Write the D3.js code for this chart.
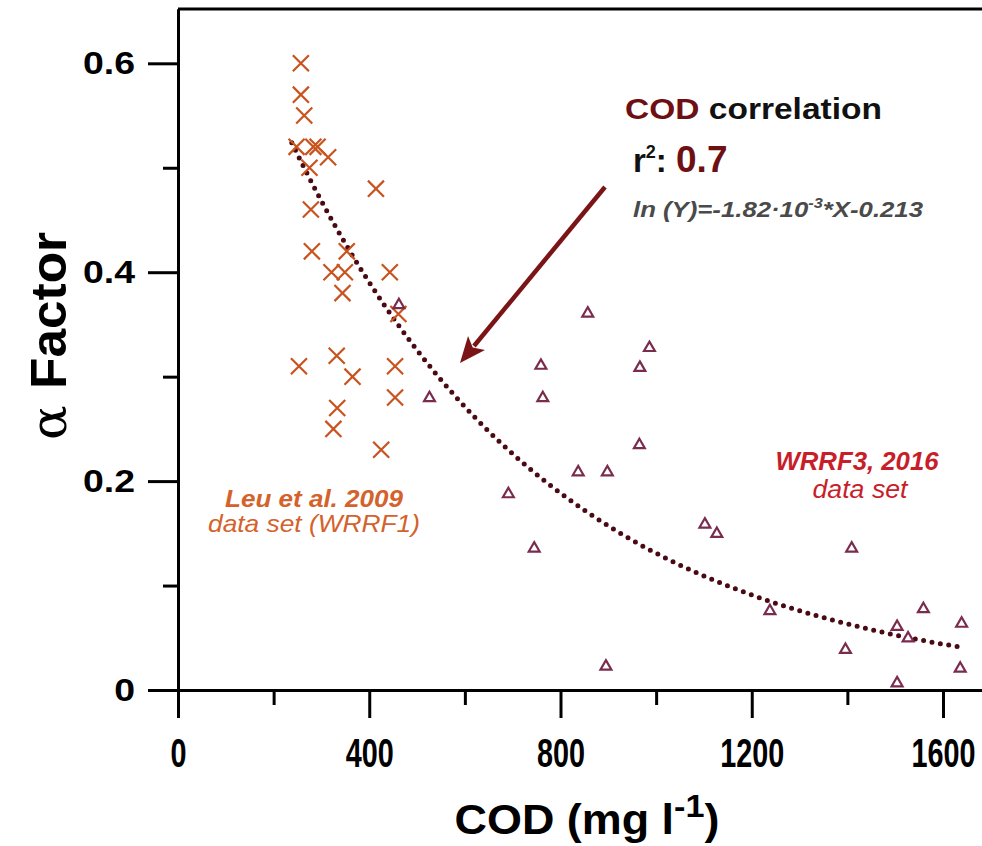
<!DOCTYPE html>
<html>
<head>
<meta charset="utf-8">
<script src="https://cdn.jsdelivr.net/npm/d3@7"></script>
<style>
  body { margin: 0; background: #fff; }
  svg { display: block; font-family: "Liberation Sans", Arial, sans-serif; }
</style>
</head>
<body>
<div id="chart"></div>
<script>
// Leu et al. 2009 (WRRF1) – COD (mg/l), alpha factor
const leuCod   = [257, 257, 264, 248, 283, 292, 314, 275, 414, 278, 280, 353, 321, 349, 443, 344, 461, 253, 332, 365, 454, 454, 333, 325, 425];
const leuAlpha = [0.60, 0.57, 0.55, 0.52, 0.52, 0.52, 0.51, 0.50, 0.48, 0.46, 0.42, 0.42, 0.40, 0.40, 0.40, 0.38, 0.36, 0.31, 0.32, 0.30, 0.31, 0.28, 0.27, 0.25, 0.23];

// WRRF3, 2016 data set
const wrrfCod   = [462, 526, 857, 986, 759, 966, 763, 965, 837, 898, 691, 745, 895, 1102, 1127, 1409, 1238, 1559, 1639, 1504, 1527, 1396, 1636, 1504];
const wrrfAlpha = [0.37, 0.281, 0.362, 0.329, 0.312, 0.31, 0.281, 0.236, 0.21, 0.21, 0.189, 0.137, 0.024, 0.16, 0.151, 0.137, 0.077, 0.079, 0.065, 0.062, 0.051, 0.04, 0.022, 0.008];

// fitted model printed on the chart: ln(Y) = -1.82e-3 * X - 0.213
const fitSlope = -1.82e-3;
const fitIntercept = -0.213;
const fitRange = [238, 1632];

const xMajor = [0, 400, 800, 1200, 1600];
const xMinor = [200, 600, 1000, 1400];
const yMajor = [0, 0.2, 0.4, 0.6];
const yMinor = [0.1, 0.3, 0.5];

const width = 982, height = 846;

const svg = d3.select('#chart').append('svg')
  .attr('width', width)
  .attr('height', height);

svg.append('rect').attr('width', width).attr('height', height).attr('fill', '#fff');

const x = d3.scaleLinear().domain([0, 1700]).range([178, 178 + 1700 * 0.478125]);
const y = d3.scaleLinear().domain([0, 0.652]).range([690, 9]);

// stretch a text selection horizontally by a factor
function stretch(sel, factor) {
  sel.each(function() {
    const w = this.getComputedTextLength();
    d3.select(this).attr('textLength', w * factor).attr('lengthAdjust', 'spacingAndGlyphs');
  });
}

// frame top line
svg.append('line')
  .attr('x1', x(0)).attr('x2', x(1700))
  .attr('y1', y(0.652)).attr('y2', y(0.652))
  .attr('stroke', '#000').attr('stroke-width', 3);

// x axis
const xMinorAxis = svg.append('g')
  .attr('transform', `translate(0,${y(0)})`)
  .call(d3.axisBottom(x).tickValues(xMinor).tickSize(15).tickSizeOuter(0).tickFormat(''));

const xAxis = svg.append('g')
  .attr('transform', `translate(0,${y(0)})`)
  .call(d3.axisBottom(x).tickValues(xMajor).tickSize(28).tickSizeOuter(0).tickPadding(21).tickFormat(d3.format('d')));

// y axis
const yMinorAxis = svg.append('g')
  .attr('transform', `translate(${x(0)},0)`)
  .call(d3.axisLeft(y).tickValues(yMinor).tickSize(15).tickSizeOuter(0).tickFormat(''));

const yAxis = svg.append('g')
  .attr('transform', `translate(${x(0)},0)`)
  .call(d3.axisLeft(y).tickValues(yMajor).tickSize(30).tickSizeOuter(0).tickPadding(13)
    .tickFormat(d => d === 0 ? '0' : d3.format('.1f')(d)));

[xMinorAxis, xAxis, yMinorAxis, yAxis].forEach(g => {
  g.selectAll('path, line').attr('stroke', '#000').attr('stroke-width', 3);
});

// x tick labels are tall and narrow in the original
xAxis.selectAll('text')
  .attr('fill', '#000')
  .style('font-size', '40px')
  .style('font-weight', 'bold')
  .attr('transform', 'scale(0.72,1)');

// y tick labels are wide
yAxis.selectAll('text')
  .attr('fill', '#000')
  .style('font-size', '32px')
  .style('font-weight', 'bold')
  .attr('x', -43 / 1.17)
  .attr('transform', 'scale(1.17,1)');

// axis titles
const xTitle = svg.append('text')
  .attr('x', 587).attr('y', 834)
  .attr('text-anchor', 'middle')
  .style('font-size', '42px')
  .style('font-weight', 'bold')
  .attr('fill', '#000');
xTitle.append('tspan').text('COD (mg l');
xTitle.append('tspan').attr('dy', -17).style('font-size', '32px').text('-1');
xTitle.append('tspan').attr('dy', 17).text(')');

const yTitle = svg.append('text')
  .attr('transform', 'translate(66,336) rotate(-90)')
  .attr('text-anchor', 'middle')
  .style('font-size', '50px')
  .attr('fill', '#000');
yTitle.append('tspan').style('font-family', '"DejaVu Serif", serif').text('α ');
yTitle.append('tspan').style('font-weight', 'bold').text('Factor');

// fit curve (dotted)
const fitX = d3.range(fitRange[0], fitRange[1] + 1, 4);
const fitLine = d3.line()
  .x(d => x(d))
  .y(d => y(Math.exp(fitSlope * d + fitIntercept)));

svg.append('path')
  .datum(fitX)
  .attr('d', fitLine)
  .attr('fill', 'none')
  .attr('stroke', '#4a0a14')
  .attr('stroke-width', 5)
  .attr('stroke-linecap', 'round')
  .attr('stroke-dasharray', '0 8.5');

// Leu et al. points (x markers)
const leu = leuCod.map((c, i) => ({ cod: c, alpha: leuAlpha[i] }));
svg.append('g').selectAll('path')
  .data(leu)
  .join('path')
  .attr('transform', d => `translate(${x(d.cod)},${y(d.alpha)})`)
  .attr('d', d3.symbol(d3.symbolTimes, 170))
  .attr('fill', 'none')
  .attr('stroke', '#c9531e')
  .attr('stroke-width', 2.2);

// WRRF3 points (open triangles)
const wrrf = wrrfCod.map((c, i) => ({ cod: c, alpha: wrrfAlpha[i] }));
svg.append('g').selectAll('path')
  .data(wrrf)
  .join('path')
  .attr('transform', d => `translate(${x(d.cod)},${y(d.alpha) + 1.5})`)
  .attr('d', d3.symbol(d3.symbolTriangle2, 85))
  .attr('fill', '#fff')
  .attr('stroke', '#7a2c4e')
  .attr('stroke-width', 2.2);

// arrow
const start = [605, 187], tip = [460, 363];
const dx = tip[0] - start[0], dy = tip[1] - start[1];
const len = Math.hypot(dx, dy);
const ux = dx / len, uy = dy / len;
const headLen = 26, headHalf = 11;
const base = [tip[0] - ux * headLen, tip[1] - uy * headLen];
svg.append('line')
  .attr('x1', start[0]).attr('y1', start[1])
  .attr('x2', base[0] + ux * 4).attr('y2', base[1] + uy * 4)
  .attr('stroke', '#7a1417').attr('stroke-width', 4.5);
svg.append('path')
  .attr('d', `M${tip[0]},${tip[1]}L${base[0] - uy * headHalf},${base[1] + ux * headHalf}L${base[0] + ux * 6},${base[1] + uy * 6}L${base[0] + uy * headHalf},${base[1] - ux * headHalf}Z`)
  .attr('fill', '#7a1417');

// annotations
const t1 = svg.append('text')
  .attr('x', 625).attr('y', 119)
  .style('font-size', '29px').style('font-weight', 'bold');
t1.append('tspan').attr('fill', '#6e1013').text('COD');
t1.append('tspan').attr('fill', '#111').text(' correlation');
stretch(t1, 257 / t1.node().getComputedTextLength());

const t2 = svg.append('text')
  .attr('x', 633).attr('y', 172)
  .style('font-weight', 'bold');
t2.append('tspan').attr('fill', '#111').style('font-size', '33px').text('r');
t2.append('tspan').attr('fill', '#111').style('font-size', '18px').attr('dy', -14).text('2');
t2.append('tspan').attr('fill', '#111').style('font-size', '33px').attr('dy', 14).text(': ');
t2.append('tspan').attr('fill', '#6e1013').style('font-size', '37px').text('0.7');

const t3 = svg.append('text')
  .attr('x', 633).attr('y', 217)
  .style('font-size', '22px').style('font-weight', 'bold').style('font-style', 'italic')
  .attr('fill', '#4a4a4a');
t3.append('tspan').text('ln (Y)=-1.82·10');
t3.append('tspan').style('font-size', '14px').attr('dy', -9).text('-3');
t3.append('tspan').attr('dy', 9).text('*X-0.213');
stretch(t3, 290 / t3.node().getComputedTextLength());

const leuLabel = svg.append('g').attr('fill', '#d4622c').style('font-style', 'italic');
const l1 = leuLabel.append('text').attr('x', 314).attr('y', 507).attr('text-anchor', 'middle')
  .style('font-size', '23px').style('font-weight', 'bold').text('Leu et al. 2009');
stretch(l1, 178 / l1.node().getComputedTextLength());
const l2 = leuLabel.append('text').attr('x', 314).attr('y', 532).attr('text-anchor', 'middle')
  .style('font-size', '24px').text('data set (WRRF1)');
stretch(l2, 212 / l2.node().getComputedTextLength());

const wrrfLabel = svg.append('g').attr('fill', '#c81e2a').style('font-style', 'italic');
const w1 = wrrfLabel.append('text').attr('x', 857).attr('y', 470).attr('text-anchor', 'middle')
  .style('font-size', '25px').style('font-weight', 'bold').text('WRRF3, 2016');
stretch(w1, 163 / w1.node().getComputedTextLength());
const w2 = wrrfLabel.append('text').attr('x', 860).attr('y', 498).attr('text-anchor', 'middle')
  .style('font-size', '26px').text('data set');
stretch(w2, 95 / w2.node().getComputedTextLength());

// axis title widths
stretch(xTitle, 265 / xTitle.node().getComputedTextLength());
stretch(yTitle, 208 / yTitle.node().getComputedTextLength());
</script>
</body>
</html>
